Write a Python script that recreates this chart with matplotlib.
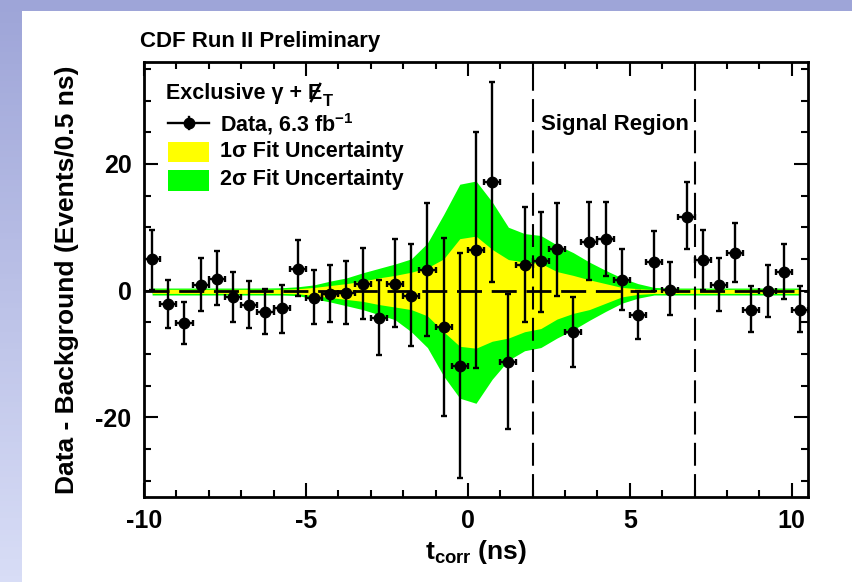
import numpy as np
import matplotlib
matplotlib.use('Agg')
import matplotlib.pyplot as plt
from matplotlib.lines import Line2D
from matplotlib.patches import Rectangle
from matplotlib.colors import LinearSegmentedColormap

FAM = 'Liberation Sans'
plt.rcParams['font.family'] = [FAM, 'DejaVu Sans']
plt.rcParams['font.weight'] = 'bold'
plt.rcParams['axes.unicode_minus'] = False
plt.rcParams['mathtext.fontset'] = 'custom'
plt.rcParams['mathtext.rm'] = FAM + ':bold'
plt.rcParams['mathtext.bf'] = FAM + ':bold'
plt.rcParams['mathtext.it'] = FAM + ':bold'

# ---- data ----
t_bins = [-9.75, -9.25, -8.75, -8.25, -7.75, -7.25, -6.75, -6.25, -5.75, -5.25,
          -4.75, -4.25, -3.75, -3.25, -2.75, -2.25, -1.75, -1.25, -0.75, -0.25,
          0.25, 0.75, 1.25, 1.75, 2.25, 2.75, 3.25, 3.75, 4.25, 4.75,
          5.25, 5.75, 6.25, 6.75, 7.25, 7.75, 8.25, 8.75, 9.25, 9.75, 10.25]
data_val = [5.0, -2.05, -5.1, 0.84, 1.84, -1.05, -2.2, -3.4, -2.7, 3.4,
            -1.1, -0.47, -0.37, 1.05, -4.3, 1.05, -0.9, 3.2, -5.7, -11.9,
            6.4, 17.1, -11.3, 4.0, 4.6, 6.6, -6.5, 7.7, 8.2, 1.6,
            -3.9, 4.5, 0.05, 11.6, 4.8, 0.9, 5.9, -3.0, -0.1, 2.95, -3.0]
data_hi = [9.6, 1.7, -1.8, 5.2, 6.2, 2.9, 1.5, 0.26, 0.9, 8.05,
           3.3, 4.1, 4.7, 6.8, 1.6, 8.2, 7.3, 13.9, 8.3, 5.9,
           25.0, 32.9, -0.6, 13.2, 12.4, 13.8, -1.0, 14.0, 14.0, 6.6,
           -0.1, 9.4, 4.5, 17.1, 9.6, 5.2, 10.7, 0.7, 4.1, 7.4, 0.7]
data_lo = [0.15, -5.9, -8.4, -3.2, -2.3, -5.0, -5.9, -6.9, -6.7, -0.9,
           -5.2, -5.0, -5.2, -4.5, -10.1, -5.8, -8.8, -7.2, -19.8, -29.6,
           -12.2, 1.3, -21.9, -4.9, -3.4, -0.9, -12.1, 1.6, 2.3, -3.0,
           -7.7, -0.1, -3.9, 6.5, 0.15, -3.2, 1.4, -6.6, -4.2, -1.4, -6.6]

band2_up = [0.4, 0.4, 0.4, 0.4, 0.4, 0.4, 0.4, 0.4, 0.45, 0.6,
            0.9, 1.5, 2.0, 2.8, 3.5, 4.2, 5.0, 7.5, 12.0, 16.8,
            17.3, 14.0, 10.0, 9.0, 8.7, 7.2, 6.0, 4.5, 3.2, 2.0,
            1.1, 0.5, 0.4, 0.4, 0.4, 0.4, 0.4, 0.4, 0.4, 0.4, 0.4]
band1_up = [0.2, 0.2, 0.2, 0.2, 0.2, 0.2, 0.2, 0.2, 0.2, 0.3,
            0.5, 0.8, 1.1, 1.5, 2.0, 2.4, 2.9, 3.6, 5.0, 8.2,
            8.6, 6.5, 4.9, 4.5, 4.3, 3.0, 2.4, 1.7, 1.1, 0.5,
            0.3, 0.15, 0.2, 0.2, 0.2, 0.2, 0.2, 0.2, 0.2, 0.2, 0.2]
band1_lo = [-0.45, -0.45, -0.45, -0.45, -0.45, -0.45, -0.45, -0.45, -0.45, -0.5,
            -0.8, -1.1, -1.4, -1.7, -2.2, -2.6, -3.0, -4.0, -6.5, -8.8,
            -9.1, -8.0, -7.5, -6.5, -6.0, -4.5, -3.6, -3.0, -2.0, -1.0,
            -0.6, -0.45, -0.45, -0.45, -0.45, -0.45, -0.45, -0.45, -0.45, -0.45, -0.45]
band2_lo = [-0.7, -0.7, -0.7, -0.7, -0.7, -0.7, -0.7, -0.7, -0.7, -0.8,
            -1.3, -1.8, -2.4, -3.0, -3.8, -4.6, -6.5, -9.0, -13.5, -17.0,
            -17.8, -14.0, -11.0, -9.5, -9.0, -7.5, -6.2, -4.7, -3.3, -2.0,
            -1.2, -0.7, -0.7, -0.7, -0.7, -0.7, -0.7, -0.7, -0.7, -0.7, -0.7]

signal_edges = [2, 7]
legend_labels = ['Data, 6.3 fb$^{\\mathbf{-1}}$', '1σ Fit Uncertainty', '2σ Fit Uncertainty']

YELLOW = '#ffff00'
GREEN = '#00ff00'

x = np.array(t_bins)
y = np.array(data_val)
yerr = [y - np.array(data_lo), np.array(data_hi) - y]

W, H = 853, 582
fig = plt.figure(figsize=(W / 100, H / 100), dpi=100)


def fx(px):
    return px / W


def fy(py):
    return 1 - py / H


# background slide strips
bg = fig.add_axes([0, 0, 1, 1], zorder=-10)
bg.set_xlim(0, W); bg.set_ylim(H, 0); bg.axis('off')
grad = np.linspace(0, 1, 100).reshape(-1, 1)
cm = LinearSegmentedColormap.from_list('sl', ['#9ea5d8', '#d8ddf6'])
bg.imshow(grad, cmap=cm, extent=[0, 22, H, 0], aspect='auto')
bg.add_patch(Rectangle((0, 0), W, 11, color='#9ea5d8', lw=0))

L, R, T, B = 144, 808, 62, 497
ax = fig.add_axes([fx(L), fy(B), (R - L) / W, (B - T) / H])
ax.set_xlim(-10, 10.5)
ax.set_ylim(-32.6, 36.1)

ax.fill_between(x, band2_lo, band2_up, color=GREEN, lw=0, zorder=1)
ax.fill_between(x, band1_lo, band1_up, color=YELLOW, lw=0, zorder=2)
ax.axhline(0, color='black', lw=2, dashes=(9, 3.5), zorder=3)
for e in signal_edges:
    ax.axvline(e, color='black', lw=1.5, dashes=(11, 4), zorder=3)

ax.errorbar(x, y, yerr=yerr, xerr=0.25, fmt='o', color='black', ms=7.5,
            elinewidth=1.7, capsize=2.4, capthick=1.7, zorder=5)

ax.set_xticks([-10, -5, 0, 5, 10])
ax.set_xticks(np.arange(-10, 11, 1), minor=True)
ax.set_yticks([-20, 0, 20])
ax.set_yticks(np.arange(-30, 36, 5), minor=True)
ax.tick_params(which='both', direction='in', top=True, right=True, width=1.5,
               labelsize=18)
ax.tick_params(axis='x', pad=9)
ax.tick_params(axis='y', pad=9)
ax.tick_params(which='major', length=10)
ax.tick_params(which='minor', length=5)
for s in ax.spines.values():
    s.set_linewidth(2)
for lab in ax.get_xticklabels() + ax.get_yticklabels():
    lab.set_fontweight('bold')

ax.set_xlabel(r'$\mathbf{t_{corr}}$ (ns)', fontsize=19, fontweight='bold', labelpad=3)
ax.set_ylabel('Data - Background (Events/0.5 ns)', fontsize=19, fontweight='bold', labelpad=12)

fig.text(fx(140), fy(42), 'CDF Run II Preliminary', fontsize=16, fontweight='bold',
         va='center', ha='left')
ax.text(4.53, 26.3, 'Signal Region', fontsize=16, fontweight='bold', ha='center', va='center')

# ---- legend (drawn in figure pixel positions) ----
FS = 15.5
box_l, box_r = 168, 209
fig.add_artist(Line2D([fx(box_l), fx(box_r)], [fy(123), fy(123)], color='black', lw=1.7))
fig.add_artist(Line2D([fx(189), fx(189)], [fy(117), fy(129)], color='black', lw=1.7))
fig.add_artist(Line2D([fx(189)], [fy(123)], marker='o', ms=7.5, color='black'))
fig.add_artist(Rectangle((fx(box_l), fy(162)), fx(box_r - box_l), 20 / H, color=YELLOW, lw=0))
fig.add_artist(Rectangle((fx(box_l), fy(191)), fx(box_r - box_l), 21 / H, color=GREEN, lw=0))
for lab, py in zip(legend_labels, [124, 152, 180]):
    fig.text(fx(220), fy(py), lab, fontsize=FS, fontweight='bold', va='center', ha='left')

# title with slashed E_T
t1 = fig.text(fx(166), fy(93), 'Exclusive γ + E', fontsize=FS, fontweight='bold',
              va='center', ha='left')
fig.canvas.draw()
r = fig.canvas.get_renderer()
bb = t1.get_window_extent(r)
tmpE = fig.text(0, 0, 'E', fontsize=FS, fontweight='bold')
ew = tmpE.get_window_extent(r).width
tmpE.remove()
ecx = bb.x1 - ew / 2
# slash through the E (drawn as a line)
fig.add_artist(Line2D([(ecx - 4) / W, (ecx + 5) / W], [fy(101), fy(84)],
                      color='black', lw=1.8))
fig.text(bb.x1 / W + 0.001, fy(102), 'T', fontsize=12, fontweight='bold', va='center', ha='left')

fig.savefig('out.png', dpi=100)
